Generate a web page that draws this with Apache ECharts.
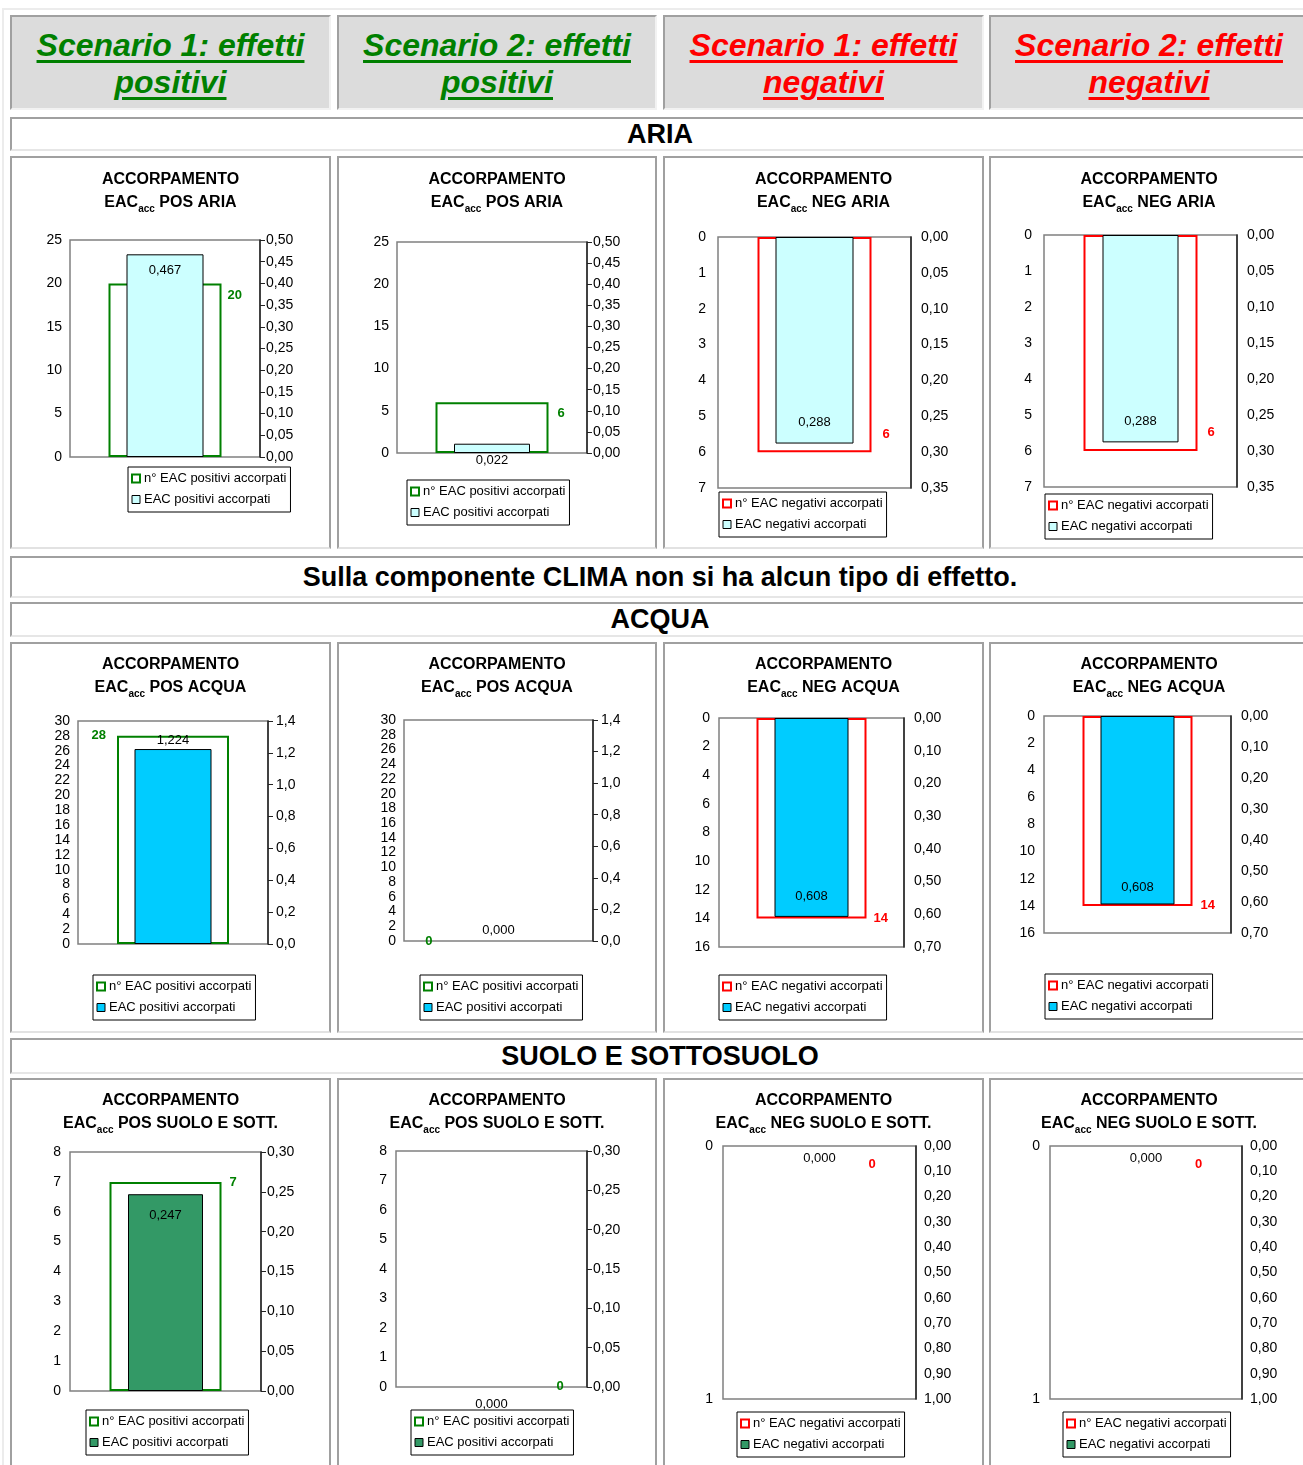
<!DOCTYPE html>
<html><head><meta charset="utf-8">
<script src="https://cdn.jsdelivr.net/npm/echarts@6/dist/echarts.min.js"></script>
<style>
html,body{margin:0;padding:0;background:#fff;width:1303px;height:1465px;overflow:hidden;font-family:"Liberation Sans",Arial,sans-serif;}
.box{position:absolute;box-sizing:border-box;}
.outer{border:2px solid #ececec;}
.hdr{background:#dcdcdc;border-style:solid;border-width:2px;border-color:#a0a0a0 #f2f2f2 #f2f2f2 #a0a0a0;text-align:center;font-weight:bold;font-style:italic;font-size:32px;line-height:37px;padding-top:10px;}
.hdr span{text-decoration:underline;text-decoration-thickness:3px;text-underline-offset:4px;}
.band{background:#fff;border-style:solid;border-width:2px;border-color:#a0a0a0 #e6e6e6 #e6e6e6 #a0a0a0;font-weight:bold;font-size:27px;color:#000;display:flex;align-items:center;justify-content:center;}
.cell{background:#fff;border-style:solid;border-width:2px;border-color:#a0a0a0 #a0a0a0 #e2e2e2 #a0a0a0;}
</style>
</head><body>
<script>
// ---------------- DATA ----------------
const scenarioHeaders = ['Scenario 1: effetti|positivi', 'Scenario 2: effetti|positivi', 'Scenario 1: effetti|negativi', 'Scenario 2: effetti|negativi'];
const bandTexts = ['ARIA', 'Sulla componente CLIMA non si ha alcun tipo di effetto.', 'ACQUA', 'SUOLO E SOTTOSUOLO'];
const chartSubjects = ['POS ARIA', 'POS ARIA', 'NEG ARIA', 'NEG ARIA',
  'POS ACQUA', 'POS ACQUA', 'NEG ACQUA', 'NEG ACQUA',
  'POS SUOLO E SOTT.', 'POS SUOLO E SOTT.', 'NEG SUOLO E SOTT.', 'NEG SUOLO E SOTT.'];
const countValues = [20, 6, 6, 6, 28, 0, 14, 14, 7, 0, 0, 0];          // n° EAC accorpati (left axis)
const eacValues = [0.467, 0.022, 0.288, 0.288, 1.224, 0.000, 0.608, 0.608, 0.247, 0.000, 0.000, 0.000]; // EAC accorpati (right axis)
const leftAxisMax = [25, 25, 7, 7, 30, 30, 16, 16, 8, 8, 1, 1];
const leftAxisStep = [5, 5, 1, 1, 2, 2, 2, 2, 1, 1, 1, 1];
const rightAxisMax = [0.5, 0.5, 0.35, 0.35, 1.4, 1.4, 0.7, 0.7, 0.3, 0.3, 1, 1];
const rightAxisStep = [0.05, 0.05, 0.05, 0.05, 0.2, 0.2, 0.1, 0.1, 0.05, 0.05, 0.1, 0.1];
const rightAxisDecimals = [2, 2, 2, 2, 1, 1, 2, 2, 2, 2, 2, 2];
const legendPos = ['n° EAC positivi accorpati', 'EAC positivi accorpati'];
const legendNeg = ['n° EAC negativi accorpati', 'EAC negativi accorpati'];

// ---------------- STYLE / LAYOUT ----------------
const FONT = '"Liberation Sans", Arial, sans-serif';
const fills = ['#ccffff', '#ccffff', '#ccffff', '#ccffff', '#00ccff', '#00ccff', '#00ccff', '#00ccff', '#339966', '#339966', '#339966', '#339966'];
const colX = [10, 337, 663, 989], colW = [321, 320, 321, 320];
const rowY = [156, 642, 1078], rowH = [393, 391, 400];
const titleTop = [168, 653, 1089];
// plot boxes [x0,y0,x1,y1] (page coords), bar widths, legend top-left, label placement
const layouts = [
  {plot:[70,240,260,457], bw:[113,77], leg:[128,467], cl:{p:['100%',0], a:'left', o:[6,12]}, vl:{p:['50%',0], o:[0,16]}, m:[8,6]},
  {plot:[397,242,587,453], bw:[113,76], leg:[407,480], cl:{p:['100%',0], a:'left', o:[9,11]}, vl:{p:['50%',0], o:[0,17]}, m:[8,6]},
  {plot:[718,237,911,488], bw:[114,78], leg:[719,492], cl:{p:['100%','100%'], a:'left', o:[11,-18]}, vl:{p:['50%','100%'], o:[0,-21]}, m:[12,10]},
  {plot:[1044,235,1237,487], bw:[114,76], leg:[1045,494], cl:{p:['100%','100%'], a:'left', o:[10,-19]}, vl:{p:['50%','100%'], o:[0,-21]}, m:[12,10]},
  {plot:[78,721,268,944], bw:[112,77], leg:[93,975], cl:{p:[0,0], a:'right', o:[-11,0]}, vl:{p:['50%',0], o:[0,-9]}, m:[8,8]},
  {plot:[404,720,593,941], bw:[112,77], leg:[420,975], cl:{p:[0,0], a:'right', o:[-10,0]}, vl:{p:['50%',0], o:[0,-11]}, m:[8,8]},
  {plot:[719,718,904,947], bw:[110,74], leg:[719,975], cl:{p:['100%','100%'], a:'left', o:[7,0]}, vl:{p:['50%','100%'], o:[0,-20]}, m:[9,10]},
  {plot:[1044,716,1231,933], bw:[110,74], leg:[1045,974], cl:{p:['100%','100%'], a:'left', o:[8,0]}, vl:{p:['50%','100%'], o:[0,-17]}, m:[9,10]},
  {plot:[70,1152,261,1391], bw:[112,75], leg:[86,1410], cl:{p:['100%',0], a:'left', o:[8,1]}, vl:{p:['50%',0], o:[0,21]}, m:[9,6]},
  {plot:[396,1151,587,1387], bw:[112,75], leg:[411,1410], cl:{p:['100%',0], a:'left', o:[9,-1]}, vl:{p:['50%',0], o:[0,17]}, m:[9,6]},
  {plot:[723,1146,916,1399], bw:[114,76], leg:[737,1412], cl:{p:['100%',0], a:'left', o:[-8,18]}, vl:{p:['50%',0], o:[0,12]}, m:[10,8]},
  {plot:[1050,1146,1242,1399], bw:[114,76], leg:[1063,1412], cl:{p:['100%',0], a:'left', o:[-8,18]}, vl:{p:['50%',0], o:[0,12]}, m:[10,8]}
];

function addBox(cls, x, y, w, h) {
  const d = document.createElement('div');
  d.className = 'box ' + cls;
  d.style.left = x + 'px'; d.style.top = y + 'px'; d.style.width = w + 'px'; d.style.height = h + 'px';
  document.body.appendChild(d);
  return d;
}

addBox('outer', 2, 8, 1320, 1480);

// header row
const hdrColors = ['#008000', '#008000', '#ff0000', '#ff0000'];
scenarioHeaders.forEach((t, c) => {
  const d = addBox('hdr', colX[c], 15, colW[c], 95);
  d.style.color = hdrColors[c];
  const parts = t.split('|');
  d.innerHTML = '<span>' + parts[0] + '</span><br><span>' + parts[1] + '</span>';
});

// bands
const bandY = [117, 556, 602, 1038], bandH = [34, 42, 35, 36];
bandTexts.forEach((t, i) => {
  const d = addBox('band', 10, bandY[i], 1300, bandH[i]);
  d.textContent = t;
});

// charts
for (let i = 0; i < 12; i++) {
  const r = Math.floor(i / 4), c = i % 4;
  addBox('cell', colX[c], rowY[r], colW[c], rowH[r]);
  const ox = colX[c] + 2, oy = rowY[r] + 2;
  const div = addBox('', ox, oy, colW[c] - 4, rowH[r] - 4);
  const L = layouts[i];
  const neg = chartSubjects[i].indexOf('NEG') === 0;
  const outline = neg ? '#ff0000' : '#008000';
  const names = neg ? legendNeg : legendPos;
  const dec = rightAxisDecimals[i];
  const chart = echarts.init(div, null, {renderer: 'canvas'});
  const cv = countValues[i], ev = eacValues[i];
  const option = {
    animation: false,
    textStyle: {fontFamily: FONT},
    title: {
      text: 'ACCORPAMENTO\n{b|EAC}{s|acc}{b| ' + chartSubjects[i] + '}',
      left: 'center', top: titleTop[r] - oy, padding: 0,
      textStyle: {fontFamily: FONT, fontSize: 16, fontWeight: 'bold', color: '#000', lineHeight: 23,
        rich: {
          b: {fontFamily: FONT, fontSize: 16, fontWeight: 'bold', color: '#000', lineHeight: 23},
          s: {fontFamily: FONT, fontSize: 10, fontWeight: 'bold', color: '#000', verticalAlign: 'bottom'}
        }}
    },
    grid: {
      left: L.plot[0] - ox, top: L.plot[1] - oy,
      width: L.plot[2] - L.plot[0], height: L.plot[3] - L.plot[1],
      show: true, borderColor: '#808080', borderWidth: 1.5, backgroundColor: '#fff',
      outerBoundsMode: 'none', containLabel: false
    },
    legend: {
      orient: 'vertical', left: L.leg[0] - ox, top: L.leg[1] - oy,
      padding: [5, 4, 6, 3], itemGap: 8, itemWidth: 8, itemHeight: 8,
      borderColor: '#000', borderWidth: 1, backgroundColor: '#fff', borderRadius: 0,
      selectedMode: false,
      textStyle: {fontFamily: FONT, fontSize: 13, color: '#000', padding: [0, 0, 0, -1]},
      data: [
        {name: names[0], icon: 'rect', itemStyle: {color: '#fff', borderColor: outline, borderWidth: 2}},
        {name: names[1], icon: 'rect', itemStyle: {color: fills[i], borderColor: '#000', borderWidth: 1}}
      ]
    },
    xAxis: [
      {type: 'category', data: [''], show: false, gridIndex: 0},
      {type: 'category', data: [''], show: false, gridIndex: 0}
    ],
    yAxis: [
      {type: 'value', min: 0, max: leftAxisMax[i], interval: leftAxisStep[i], inverse: neg, position: 'left',
        axisLine: {show: false}, axisTick: {show: false}, splitLine: {show: false},
        axisLabel: {margin: L.m[0], fontFamily: FONT, fontSize: 14, color: '#000', hideOverlap: false}},
      {type: 'value', min: 0, max: rightAxisMax[i], interval: rightAxisStep[i], inverse: neg, position: 'right',
        axisLine: {show: true, lineStyle: {color: '#222', width: 1.5}},
        axisTick: {show: !neg, inside: false, length: 5, lineStyle: {color: '#222', width: 1}},
        splitLine: {show: false},
        axisLabel: {margin: L.m[1], fontFamily: FONT, fontSize: 14, color: '#000', hideOverlap: false,
          formatter: v => v.toFixed(dec).replace('.', ',')}}
    ],
    series: [
      {
        name: names[0], type: 'bar', xAxisIndex: 0, yAxisIndex: 0, barWidth: L.bw[0], z: 2,
        silent: true,
        data: [{value: cv, itemStyle: {color: 'rgba(0,0,0,0)', borderColor: outline, borderWidth: cv === 0 ? 0 : 2}}],
        label: {show: true, position: L.cl.p, align: L.cl.a, verticalAlign: 'middle', offset: L.cl.o,
          fontFamily: FONT, fontSize: 13, fontWeight: 'bold', color: outline,
          formatter: p => String(p.value)}
      },
      {
        name: names[1], type: 'bar', xAxisIndex: 1, yAxisIndex: 1, barWidth: L.bw[1], z: 3,
        silent: true,
        data: [{value: ev, itemStyle: {color: fills[i], borderColor: '#000', borderWidth: ev === 0 ? 0 : 1}}],
        label: {show: true, position: L.vl.p, align: 'center', verticalAlign: 'middle', offset: L.vl.o,
          fontFamily: FONT, fontSize: 13, color: '#000',
          formatter: p => p.value.toFixed(3).replace('.', ',')}
      }
    ]
  };
  chart.setOption(option);
}
</script>
</body></html>
